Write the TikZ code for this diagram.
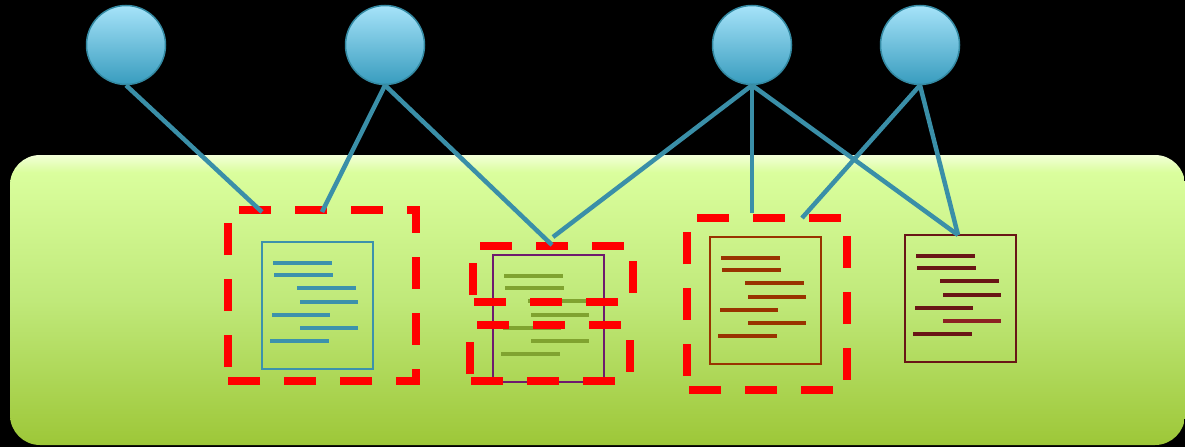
\documentclass[tikz,border=0pt]{standalone}
\definecolor{connc}{RGB}{58,143,168}
\definecolor{bubtop}{RGB}{166,227,249}
\definecolor{bubbot}{RGB}{56,156,190}
\definecolor{bubedge}{RGB}{52,138,163}
\definecolor{gA}{RGB}{157,199,56}
\definecolor{gB}{RGB}{192,233,122}
\definecolor{gC}{RGB}{218,254,157}
\definecolor{gD}{RGB}{242,255,215}
\definecolor{docteal}{RGB}{60,146,172}
\definecolor{docpurple}{RGB}{110,26,110}
\definecolor{docolive}{RGB}{128,163,48}
\definecolor{docbrown}{RGB}{153,51,0}
\definecolor{docmaroon}{RGB}{105,22,22}
\definecolor{docred}{RGB}{140,34,34}
\definecolor{dashred}{RGB}{255,0,0}
\pgfdeclareverticalshading{greenbg}{100bp}{color(0bp)=(gA); color(25bp)=(gA); color(50bp)=(gB); color(72bp)=(gC); color(75bp)=(gD); color(100bp)=(gD)}
\tikzset{
  docbox/.style={draw, line width=2pt, minimum width=111pt, minimum height=127pt, inner sep=0pt, outer sep=0pt, anchor=north west},
  bubble/.style={circle, minimum size=79pt, inner sep=0pt, draw=bubedge, line width=1.5pt, top color=bubtop, bottom color=bubbot},
  conn/.style={draw=connc, line width=4.5pt},
  reddash/.style={draw=dashred, line width=8pt, dash pattern=on 32pt off 24pt},
}
\newcommand\docsheet[6]{%
  \node[docbox, draw=#4] (#1) at (#2,#3) {};
  \begin{scope}[shift={(#2,#3)}, line width=4pt]
    \draw[#5] (11,21) -- (70,21);
    \draw[#5] (12,33) -- (71,33);
    \draw[#5] (35,46) -- (94,46);
    \draw[#5] (38,60) -- (96,60);
    \draw[#5] (10,73) -- (68,73);
    \draw[#6] (38,86) -- (96,86);
    \draw[#5] (8,99) -- (67,99);
  \end{scope}}
\begin{document}
\begin{tikzpicture}[x=1pt,y=-1pt]
\useasboundingbox (0,0) rectangle (1185,447);
\fill[black] (0,0) rectangle (1185,447);
\path[shading=greenbg, rounded corners=30pt] (10,155) rectangle (1185,445);

% documents
\docsheet{d1}{262}{242}{docteal}{docteal}{docteal}
\docsheet{d2}{493}{255}{docpurple}{docolive}{docolive}
\docsheet{d3}{710}{237}{docbrown}{docbrown}{docbrown}
\docsheet{d4}{905}{235}{docmaroon}{docmaroon}{docred}

% red dashed frames
\draw[reddash, dash phase=42pt] (228,381) -- (228,210) -- (416,210) -- (416,381) -- cycle;
\draw[reddash, dash phase=49pt] (473,302) -- (473,246) -- (633,246) -- (633,302) -- cycle;
\draw[reddash, dash phase=49pt] (470,381) -- (470,325) -- (630,325) -- (630,381) -- cycle;
\draw[reddash, dash phase=42pt] (687,390) -- (687,218) -- (847,218) -- (847,390) -- cycle;

% circles
\node[bubble] (c1) at (126,45) {};
\node[bubble] (c2) at (385,45) {};
\node[bubble] (c3) at (752,45) {};
\node[bubble] (c4) at (920,45) {};

% connector end points
\coordinate (t1) at (262,212);
\coordinate (t2) at (322,212);
\coordinate (t3) at (552,245);
\coordinate (t4) at (553,237);
\coordinate (t5) at (752,213);
\coordinate (t6) at (958,235);
\coordinate (t7) at (802,218);

\draw[conn] (c1.south) -- (t1);
\draw[conn] (c2.south) -- (t2);
\draw[conn] (c2.south) -- (t3);
\draw[conn] (c3.south) -- (t4);
\draw[conn] (c3.south) -- (t5);
\draw[conn] (c3.south) -- (t6);
\draw[conn] (c4.south) -- (t7);
\draw[conn] (c4.south) -- (t6);
\end{tikzpicture}
\end{document}
